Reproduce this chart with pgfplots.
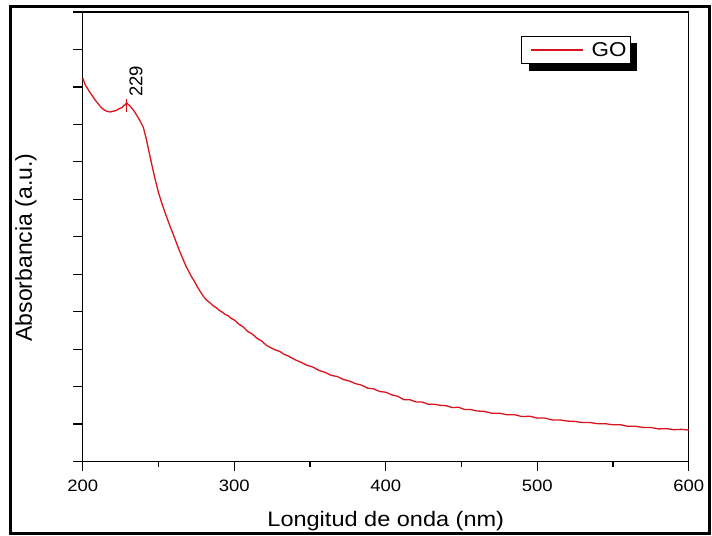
\documentclass[border=0pt]{standalone}
\usepackage{fontspec}
\setmainfont{Liberation Sans}[FakeStretch=1.12]
\newfontfamily\plainsans{Liberation Sans}
\usepackage{pgfplots}
\pgfplotsset{compat=1.18}
\definecolor{gored}{RGB}{218,20,28}

\begin{document}
\begin{tikzpicture}
\begin{axis}[
  scale only axis,
  width=606pt, height=449.5pt,
  xmin=200, xmax=600, ymin=0, ymax=12,
  xtick={200,300,400,500,600},
  minor xtick={250,350,450,550},
  ytick={0,1,2,3,4,5,6,7,8,9,10,11,12},
  yticklabels={},
  tick align=outside,
  xtick pos=bottom, ytick pos=left,
  major tick length=9.5pt, minor tick length=5pt,
  axis line style={line width=1.3pt},
  tick style={line width=1.3pt, black},
  /pgf/number format/assume math mode=true,
  ticklabel style={font=\fontsize{16.5}{18}\selectfont},
  xticklabel style={anchor=base, yshift=-20.2pt},
  xlabel={Longitud de onda (nm)},
  ylabel={Absorbancia (a.u.)},
  xlabel style={at={(axis description cs:0.5,-0.1439)}, anchor=base,
    font=\fontsize{21}{24}\selectfont},
  ylabel style={at={(axis description cs:-0.0936,0.476)}, anchor=center,
    font=\plainsans\fontsize{23}{26}\selectfont},
  legend style={at={(0.7381,0.9155)}, anchor=west, draw=none, fill=none,
    inner sep=0pt, column sep=8pt, nodes={inner sep=0pt},
    font=\fontsize{20}{22}\selectfont},
  legend image code/.code={\draw[gored, line width=1.3pt] (0pt,0pt) -- (52pt,0pt);},
  clip=false
]

% legend frame with its shadow
\fill[black] (axis description cs:0.7365,0.8683) rectangle (axis description cs:0.9142,0.9299);
\draw[line width=0.8pt, fill=white] (axis description cs:0.7244,0.8854) rectangle (axis description cs:0.9043,0.9455);

\addplot[gored, line width=1.3pt, line join=round] coordinates {
  (200,10.24) (201,10.12) (202,10.03) (203,9.97) (204,9.90) (206,9.78)
  (208,9.66) (210,9.56) (212,9.46) (214,9.39) (216,9.35) (218,9.33)
  (220,9.35) (222,9.37) (224,9.42) (226,9.45) (227,9.50) (228,9.52)
  (229,9.58) (230,9.53) (231,9.50) (232,9.45) (234,9.35) (236,9.22)
  (238,9.08) (240,8.92) (242,8.60) (244,8.22) (246,7.85) (248,7.50)
  (250,7.18) (252,6.92) (254,6.68) (256,6.46) (258,6.24) (260,6.04)
  (262,5.82) (264,5.61) (266,5.42) (268,5.23) (270,5.07) (272,4.92)
  (274,4.79) (276,4.64) (278,4.51) (280,4.39) (282,4.30) (284,4.24)
  (286,4.16) (288,4.11) (290,4.04) (292,3.99) (294,3.93) (296,3.89)
  (298,3.82) (300,3.78) (303,3.67) (306,3.59) (309,3.47) (312,3.40)
  (315,3.29) (318,3.22) (321,3.11) (324,3.04) (327,2.98) (330,2.94)
  (333,2.86) (336,2.81) (340,2.72) (344,2.65) (348,2.57) (352,2.52)
  (356,2.43) (360,2.38) (364,2.30) (368,2.27) (372,2.19) (376,2.15)
  (380,2.08) (384,2.04) (388,1.96) (392,1.94) (396,1.87) (400,1.85)
  (404,1.78) (408,1.74) (412,1.65) (416,1.65) (420,1.59) (424,1.59)
  (428,1.53) (432,1.53) (436,1.50) (440,1.49) (444,1.44) (448,1.45)
  (452,1.39) (456,1.39) (460,1.35) (465,1.34) (470,1.29) (475,1.29)
  (480,1.25) (485,1.25) (490,1.20) (495,1.21) (500,1.16) (505,1.16)
  (510,1.11) (515,1.11) (520,1.08) (525,1.07) (530,1.04) (535,1.04)
  (540,1.01) (545,1.01) (550,0.98) (555,0.98) (560,0.94) (565,0.94)
  (570,0.91) (575,0.91) (580,0.87) (585,0.88) (590,0.85) (595,0.86)
  (600,0.84)
};
\addlegendentry{GO}

% peak marker
\addplot[gored, line width=0.8pt, forget plot] coordinates {(229,9.33) (229,9.68)};
\node[rotate=90, anchor=west, inner sep=0pt, font=\plainsans\fontsize{18.5}{20}\selectfont]
  at (axis cs:235.2,9.73) {229};

\coordinate (fr1) at (axis cs:152.34,-1.92);
\coordinate (fr2) at (axis cs:613.9,12.155);
\coordinate (bb1) at (axis cs:145.4,-1.973);
\coordinate (bb2) at (axis cs:615.3,12.32);
\end{axis}
\pgfresetboundingbox
\path[use as bounding box] (bb1) rectangle (bb2);
\draw[line width=2.8pt] (fr1) rectangle (fr2);
\end{tikzpicture}
\end{document}
